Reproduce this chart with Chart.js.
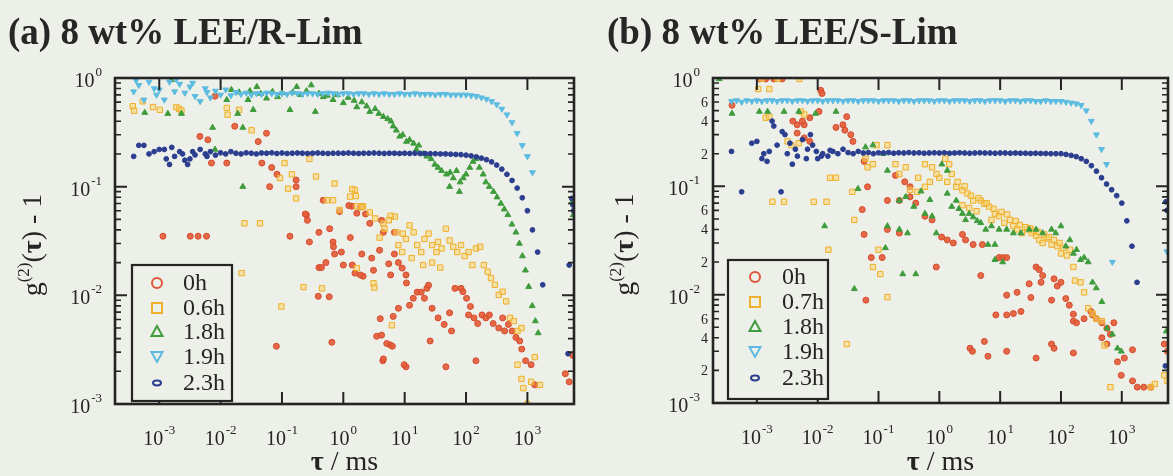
<!DOCTYPE html>
<html>
<head>
<meta charset="utf-8">
<script src="https://cdn.jsdelivr.net/npm/chart.js@4.4.1/dist/chart.umd.min.js"></script>
<style>
  html, body { margin: 0; padding: 0; background: #edf0e8; }
  #wrap { position: relative; width: 1173px; height: 476px; overflow: hidden; }
  canvas { position: absolute; top: 0; }
  #cA { left: 0; }
  #cB { left: 590px; }
  .ttl { position: absolute; top: 13px; font: bold 37px "Liberation Serif", serif; line-height: 37px; color: #262626; white-space: nowrap; }
</style>
</head>
<body>
<div id="wrap">
  <canvas id="cA" width="590" height="476"></canvas>
  <canvas id="cB" width="583" height="476"></canvas>
  <div class="ttl" style="left:8px">(a) 8 wt% LEE/R-Lim</div>
  <div class="ttl" style="left:607px">(b) 8 wt% LEE/S-Lim</div>
</div>
<script>
/* ---------- series names ---------- */
const namesA = ["0h", "0.6h", "1.8h", "1.9h", "2.3h"];
const namesB = ["0h", "0.7h", "1.8h", "1.9h", "2.3h"];

/* ---------- axis ticks ---------- */
const xTicks = [1e-3, 1e-2, 1e-1, 1, 10, 100, 1000];
const xExp = ["-3", "-2", "-1", "0", "1", "2", "3"];
const yTicks = [1, 0.1, 0.01, 0.001];
const yExp = ["0", "-1", "-2", "-3"];
const yMinor = [2e-3, 3e-3, 4e-3, 5e-3, 6e-3, 7e-3, 8e-3, 9e-3,
  2e-2, 3e-2, 4e-2, 5e-2, 6e-2, 7e-2, 8e-2, 9e-2,
  0.2, 0.3, 0.4, 0.5, 0.6, 0.7, 0.8, 0.9];
const yMinorLabelVals = [0.6, 0.4, 0.2, 0.06, 0.04, 0.02, 0.006, 0.004, 0.002];
const yMinorLabelText = ["6", "4", "2", "6", "4", "2", "6", "4", "2"];

/* ---------- lag times of the correlator (dense curves) ---------- */
const tauGrid = [2.15e-4, 2.61e-4, 3.16e-4, 3.83e-4, 4.64e-4, 5.62e-4, 6.81e-4, 8.25e-4,
  1.00e-3, 1.21e-3, 1.47e-3, 1.78e-3, 2.15e-3, 2.61e-3, 3.16e-3, 3.83e-3, 4.64e-3, 5.62e-3, 6.81e-3, 8.25e-3,
  1.00e-2, 1.21e-2, 1.47e-2, 1.78e-2, 2.15e-2, 2.61e-2, 3.16e-2, 3.83e-2, 4.64e-2, 5.62e-2, 6.81e-2, 8.25e-2,
  0.100, 0.121, 0.147, 0.178, 0.215, 0.261, 0.316, 0.383, 0.464, 0.562, 0.681, 0.825,
  1.00, 1.21, 1.47, 1.78, 2.15, 2.61, 3.16, 3.83, 4.64, 5.62, 6.81, 8.25,
  10.0, 12.1, 14.7, 17.8, 21.5, 26.1, 31.6, 38.3, 46.4, 56.2, 68.1, 82.5,
  100, 121, 147, 178, 215, 261, 316, 383, 464, 562, 681, 825,
  1000, 1210, 1470, 1780];

/* ---------- panel (a) ---------- */
const a0h = [[1.15e-3,0.035],[3.2e-3,0.035],[4.3e-3,0.035],[5.9e-3,0.035],
  [4.6e-3,0.29],[6.2e-3,0.27],[7.1e-3,0.165],[1.26e-2,0.165],[8.1e-3,0.68],[1.7e-2,0.36],
  [0.041,0.26],[0.056,0.31],[0.047,0.165],[0.068,0.15],[0.063,0.10],[0.17,0.115],[0.135,0.035],[0.25,0.055],
  [0.28,0.031],[0.47,0.075],[0.68,0.031],[1.38,0.066],[1.66,0.057],[2.7,0.046],
  [0.083,0.13],[0.17,0.10],[0.24,0.056],[0.26,0.049],[0.40,0.038],[0.60,0.041],[0.69,0.028],[0.87,0.059],
  [1.23,0.067],[0.52,0.020],[0.40,0.018],
  [0.081,0.0034],[0.39,0.0098],[0.59,0.0097],[0.65,0.0037],[0.44,0.018],[0.72,0.024],[1.0,0.019],[1.55,0.016],
  [2.1,0.015],[2.0,0.024],[3.1,0.017],[4.0,0.0061],[6.5,0.0064],[5.8,0.0035],[6.3,0.0034],[4.4,0.0025],
  [10.5,0.0022],[3.5,0.0042],[7.9,0.0076],[10.7,0.013],
  [1.9,0.065],[2.3,0.056],[1.3,0.034],[0.93,0.025],[1.4,0.019],[1.9,0.0154],[3.9,0.026],[2.9,0.022],
  [4.2,0.049],[4.5,0.038],[6.8,0.038],[6.8,0.024],[5.5,0.0195],[7.9,0.020],[9.1,0.0178],[10.5,0.0154],
  [5.9,0.0154],[4.2,0.0043],[5.1,0.0036],[4.5,0.0026],[9.8,0.0023],
  [12,0.0081],[13.8,0.0094],[16,0.0107],[18.6,0.0107],[21,0.0094],[23,0.0116],[24.5,0.0124],[26,0.0038],
  [28,0.0076],[35,0.0062],[44,0.0054],[47,0.0022],[54,0.0069],[58,0.0047],[66,0.0116],[83,0.0116],
  [89,0.0108],[102,0.0094],[110,0.0066],[118,0.0079],[135,0.0062],[155,0.0055],[145,0.0025],[182,0.0066],
  [210,0.0062],[240,0.0066],[277,0.0055],[342,0.0050],[395,0.0062],[425,0.0047],[490,0.0054],[565,0.0047],
  [650,0.0041],[750,0.0038],[810,0.0032],[935,0.0025],[1150,0.0023],[1320,0.0015],[4150,0.0019],
  [4800,0.0016],[5500,0.0028]];

const a06h = [[3.7e-4,0.55],[3.9e-4,0.50],[5.4e-4,0.61],[7.9e-4,0.54],[1.02e-3,0.51],[1.9e-3,0.54],[2.1e-3,0.52],
  [2.3e-3,0.50],[1.26e-2,0.53],[1.3e-2,0.46],[2.0e-2,0.51],[3.2e-2,0.33],
  [0.11,0.165],[0.145,0.13],[0.093,0.12],[0.17,0.078],[0.126,0.096],[0.28,0.18],[0.36,0.124],[0.72,0.107],
  [0.0245,0.046],[0.0437,0.046],[0.54,0.075],[0.68,0.075],[1.29,0.081],[1.55,0.093],[1.66,0.066],[2.1,0.066],
  [0.87,0.061],[6.9,0.053],[4.5,0.046],[9.3,0.037],
  [0.022,0.016],[0.098,0.0079],[0.224,0.0119],[0.45,0.0116],[1.66,0.0178],[3.1,0.0129],[3.2,0.0118],[6.2,0.0053],
  [1.4,0.095],[1.6,0.082],[2.0,0.065],[2.7,0.058],[3.3,0.051],[5.9,0.054],[7.3,0.038],[10.5,0.033],[12,0.044],
  [14,0.038],[16,0.029],[18.6,0.025],[21,0.033],[24.5,0.037],[28,0.029],[33,0.025],[35,0.031],[40,0.027],
  [47,0.041],[54,0.032],[62,0.028],[72,0.025],[83,0.029],[95,0.023],[110,0.025],[127,0.019],[145,0.027],
  [170,0.028],[195,0.019],[225,0.0165],[255,0.0144],[295,0.0125],[342,0.0101],[395,0.0108],[450,0.0088],
  [520,0.0062],[600,0.0058],[690,0.0047],[800,0.0050],[690,0.0023],[800,0.0017],[860,0.0014],[1000,0.0010],
  [1150,0.0016],[1320,0.0027],[1600,0.0015],
  [3.9,0.034],[4.7,0.041],[5.5,0.049],[7.9,0.029],[9.1,0.025],[13,0.022],[20,0.019],[28,0.020],[38,0.018]];

const a18h = [[5.8e-4,0.48],[1.38e-3,0.47],[2.3e-3,0.47],[1.58e-3,0.96],[7.4e-3,0.35],[1.26e-2,0.63],[1.9e-2,0.47],
  [2.3e-2,0.35],[2.8e-2,0.63],[3.4e-2,0.51],[3.9e-2,0.83],[0.056,0.65],[0.085,0.67],[0.135,0.51],[0.174,0.83],
  [0.30,0.86],[0.35,0.49],[0.47,0.67],[0.68,0.63],[1.0,0.59],[1.66,0.54],[2.7,0.49],[4.5,0.44],[6.5,0.36],
  [8.3,0.29],[10.7,0.26],[8.1e-3,0.22],[0.023,0.10],
  [0.015,0.78],[0.02,0.74],[0.03,0.76],[0.045,0.72],[0.07,0.75],[0.1,0.73],[0.15,0.74],[0.2,0.70],[0.25,0.76],
  [0.4,0.72],[0.55,0.69],[0.8,0.70],[1.2,0.66],[1.5,0.62],[2.0,0.60],[2.4,0.55],[3.3,0.52],[3.8,0.47],
  [5.3,0.42],[6.0,0.40],[7.3,0.33],[9.3,0.30],[12,0.27],[14,0.25],[15.5,0.22],[17,0.24],[20,0.20],[23,0.19],
  [27,0.18],[31,0.16],[35,0.15],[40,0.14],[48,0.13],[55,0.135],[62,0.12],[70,0.14],[80,0.11],[90,0.12],
  [100,0.13],[115,0.15],[130,0.17],[145,0.18],[165,0.15],[190,0.13],[210,0.11],[240,0.10],[280,0.09],
  [320,0.08],[370,0.07],[420,0.062],[480,0.055],[560,0.045],[650,0.038],[740,0.030],[830,0.023],[930,0.017],
  [1050,0.012],[1200,0.0080],[1350,0.0058],[1500,0.0045],[54,0.10],[78,0.09],[5300,0.072],[5600,0.055]];

const a19h = [null, null, null, 0.75, 0.86, 0.63, 0.92, 0.80,
  0.78, 0.63, 0.92, 0.75, 0.88, 0.73, 0.83, 0.68, 0.61, 0.80, 0.66, 0.76,
  0.70, 0.78, 0.69, 0.74, 0.71, 0.73, 0.70, 0.72, 0.71, 0.73, 0.72, 0.71,
  0.72, 0.71, 0.73, 0.72, 0.71, 0.72, 0.72, 0.71, 0.72, 0.73, 0.72, 0.71,
  0.72, 0.72, 0.71, 0.72, 0.72, 0.71, 0.72, 0.71, 0.72, 0.71, 0.71, 0.72,
  0.71, 0.71, 0.72, 0.71, 0.71, 0.71, 0.70, 0.71, 0.71, 0.70, 0.70, 0.70,
  0.70, 0.69, 0.68, 0.66, 0.64, 0.61, 0.57, 0.52, 0.46, 0.39, 0.31, 0.24,
  0.19, 0.135, null, null];
const a19hExtra = [[4.2e-4,0.95],[9e-4,0.70],[1.9e-3,0.97],[3.5e-3,0.90],[6e-3,0.74]];

const a23h = [null, null, null, 0.19, 0.24, 0.24, 0.20, 0.21,
  0.22, 0.22, 0.16, 0.19, 0.21, 0.175, 0.18, 0.196, 0.22, 0.20, 0.21, 0.195,
  0.205, 0.20, 0.21, 0.203, 0.20, 0.205, 0.203, 0.20, 0.204, 0.203, 0.205, 0.202,
  0.204, 0.202, 0.203, 0.204, 0.203, 0.202, 0.203, 0.204, 0.203, 0.202, 0.203, 0.203,
  0.203, 0.204, 0.203, 0.202, 0.203, 0.203, 0.204, 0.203, 0.202, 0.203, 0.203, 0.202,
  0.203, 0.202, 0.203, 0.202, 0.202, 0.201, 0.201, 0.200, 0.200, 0.199, 0.198, 0.197,
  0.195, 0.192, 0.188, 0.183, 0.177, 0.169, 0.158, 0.145, 0.130, 0.114, 0.097, 0.079,
  0.060, 0.040, 0.025, 0.0125];
const a23hExtra = [[1.3e-3,0.18],[2.4e-3,0.20],[1.6e-3,0.23],[3.5e-3,0.21],[6e-3,0.19],[2.9e-3,0.16],
  [5300,0.078],[5500,0.068],[5650,0.060],[4800,0.019],[4600,0.0029]];

/* ---------- panel (b) ---------- */
const b0h = [[3.9e-4,0.56],[1.1e-3,0.98],[1.4e-3,0.98],[1.9e-3,0.98],[2.6e-3,0.98],[0.0112,0.77],[0.0118,0.72],
  [4.6e-3,0.37],[6.0e-3,0.37],[4.6e-3,0.31],[7.4e-3,0.43],[6.0e-3,0.28],[7.4e-3,0.26],[0.0105,0.49],[0.030,0.44],
  [0.026,0.37],[0.028,0.33],[0.035,0.30],[0.038,0.26],[0.02,0.35],[3.9e-3,0.40],[5.6e-3,0.40],
  [0.058,0.17],[0.054,0.061],[0.058,0.036],[0.076,0.022],[0.115,0.022],[0.062,0.0089],[0.066,0.099],
  [0.19,0.126],[0.27,0.11],[0.33,0.099],[0.14,0.074],[0.22,0.074],[0.14,0.040],[0.22,0.037],[0.33,0.08],
  [0.41,0.07],[0.58,0.053],[0.76,0.049],[0.89,0.018],[1.09,0.034],[1.35,0.032],[1.7,0.03],[2.4,0.036],
  [2.7,0.032],[3.6,0.029],[5.1,0.029],[4.8,0.015],
  [9.6,0.022],[11,0.022],[12.8,0.022],[12.8,0.0099],[19,0.0105],[12.8,0.0065],[16.5,0.0067],[22,0.0070],
  [8.5,0.0065],[39,0.018],[44,0.017],[50,0.015],[47,0.013],[30,0.0126],[32,0.0094],[77,0.014],[87,0.012],
  [100,0.013],[70,0.0089],[120,0.0092],[137,0.008],[160,0.0066],[240,0.006],[160,0.0057],[180,0.0055],
  [310,0.007],[330,0.0065],[380,0.006],[470,0.0055],[570,0.0049],[740,0.0055],[650,0.0043],[470,0.0040],
  [570,0.0035],[850,0.0024],[980,0.0018],[1500,0.0016],[1100,0.0026],[1500,0.0031],[1800,0.0014],
  [2300,0.0014],[3000,0.0014],[5000,0.0035],[5600,0.003],[3.2,0.0032],[3.5,0.0030],[6.3,0.0027],
  [12.8,0.0030],[39,0.0026],[70,0.0035],[77,0.0032],[160,0.0029],[5.5,0.0037]];

const b07h = [[1.05e-3,0.79],[1.6e-3,0.79],[1.2e-3,0.98],[2.2e-3,0.98],[5e-3,0.98],[1.4e-3,0.43],[1.6e-3,0.44],
  [5.3e-3,0.49],[6e-3,0.46],[3.2e-3,0.26],[3.7e-3,0.24],[4.9e-3,0.25],[0.016,0.12],[0.020,0.12],[1.8e-3,0.072],
  [2.8e-3,0.072],[8.6e-3,0.072],[0.014,0.072],[0.015,0.026],[0.037,0.089],[0.04,0.049],[0.061,0.18],
  [0.066,0.15],[0.081,0.16],[0.093,0.24],[0.14,0.24],[0.1,0.026],[0.107,0.0155],[0.14,0.0095],[0.030,0.0035],
  [0.19,0.16],[0.22,0.13],[0.28,0.15],[0.33,0.093],[0.43,0.089],[0.58,0.099],[0.58,0.16],[0.76,0.15],
  [1.0,0.12],[1.35,0.11],[1.25,0.18],[1.45,0.16],[1.9,0.099],[2.4,0.092],[2.9,0.086],[3.6,0.074],[2.4,0.067],
  [3.1,0.063],[4.1,0.059],[4.8,0.074],[5.5,0.069],[6.6,0.065],[8.2,0.056],[7.2,0.049],[9.6,0.053],
  [11.7,0.046],[14.5,0.049],[16.5,0.043],[19,0.040],[23,0.037],[28,0.040],[33,0.037],[39,0.035],[44,0.032],
  [50,0.030],[58,0.033],[70,0.029],[77,0.032],[87,0.028],[100,0.024],[125,0.023],[160,0.018],[170,0.0135],
  [210,0.013],[240,0.0105],[280,0.0075],[330,0.0067],[380,0.006],[470,0.0057],[520,0.0034],[650,0.0014],
  [3000,0.0014],[3500,0.0015],[5000,0.0018],[5600,0.0016],[0.081,0.018],
  [1.6,0.13],[2.0,0.11],[2.6,0.10],[3.3,0.082],[4.4,0.078],[6.0,0.07],[7.8,0.062],[10.5,0.058],[13,0.055],
  [18,0.048],[21,0.044],[26,0.042],[31,0.041],[36,0.039],[42,0.038],[53,0.036],[63,0.034],[95,0.030],
  [110,0.027],[140,0.026],[0.45,0.12],[0.9,0.13],[0.7,0.11]];

const b18h = [[2.4e-4,0.98],[3.9e-4,0.47],[1.1e-3,0.49],[1.5e-3,0.49],[2.8e-3,0.49],[4.9e-3,0.49],[9.2e-3,0.47],
  [0.020,0.49],[0.013,0.043],[0.040,0.0113],[0.061,0.23],[0.081,0.24],[0.12,0.20],[0.14,0.14],[0.046,0.095],
  [0.13,0.027],[0.25,0.0155],[0.41,0.0155],[0.22,0.074],[0.28,0.08],[0.38,0.065],[0.14,0.043],[0.22,0.04],
  [0.30,0.037],[0.58,0.056],[0.76,0.053],[1.1,0.16],[1.35,0.14],[1.35,0.086],[1.9,0.074],[2.4,0.056],
  [0.89,0.037],[2.7,0.049],[3.1,0.056],[4.8,0.046],[5.8,0.040],[7.2,0.043],[9.6,0.040],[12.8,0.040],
  [16.5,0.037],[22,0.037],[30,0.040],[39,0.040],[50,0.037],[70,0.040],[82,0.037],[100,0.043],[120,0.028],
  [160,0.024],[210,0.021],[280,0.02],[330,0.013],[380,0.0115],[470,0.0086],[570,0.0049],[700,0.0043],
  [850,0.0032],[980,0.003],[5400,0.0046],[8.2,0.021],[11,0.02],[6.3,0.029],[8.2,0.029],
  [0.5,0.09],[0.7,0.075],[1.6,0.065],[2.1,0.062],[3.6,0.052],[4.2,0.048],[140,0.032],[180,0.026],[240,0.022]];

const b19h = [null, null, null, 0.61, 0.62, 0.60, 0.62, 0.61,
  0.62, 0.61, 0.62, 0.62, 0.61, 0.62, 0.62, 0.61, 0.62, 0.62, 0.61, 0.62,
  0.62, 0.61, 0.62, 0.62, 0.62, 0.61, 0.62, 0.62, 0.61, 0.62, 0.62, 0.62,
  0.61, 0.62, 0.62, 0.62, 0.61, 0.62, 0.62, 0.61, 0.62, 0.62, 0.62, 0.61,
  0.62, 0.62, 0.61, 0.62, 0.62, 0.62, 0.61, 0.62, 0.62, 0.61, 0.62, 0.62,
  0.62, 0.61, 0.62, 0.62, 0.61, 0.62, 0.62, 0.61, 0.61, 0.62, 0.61, 0.61,
  0.61, 0.60, 0.59, 0.58, 0.56, 0.50, 0.40, 0.30, 0.22, 0.16, null, null,
  null, null, null, null];
const b19hExtra = [[700,0.020],[5500,0.025]];

const b23h = [null, null, null, 0.21, null, 0.089, null, 0.25,
  0.26, 0.18, 0.17, 0.40, 0.24, 0.32, 0.20, 0.16, 0.19, 0.27, 0.22, 0.24,
  0.18, 0.20, 0.19, 0.21, 0.20, 0.22, 0.205, 0.20, 0.21, 0.203, 0.205, 0.20,
  0.204, 0.203, 0.205, 0.202, 0.204, 0.203, 0.205, 0.203, 0.204, 0.202, 0.203, 0.204,
  0.203, 0.204, 0.202, 0.203, 0.204, 0.203, 0.202, 0.203, 0.204, 0.203, 0.203, 0.202,
  0.203, 0.203, 0.202, 0.203, 0.202, 0.202, 0.201, 0.202, 0.201, 0.201, 0.200, 0.200,
  0.200, 0.197, 0.193, 0.188, 0.180, 0.170, 0.155, 0.138, 0.120, 0.105, 0.093, 0.082,
  0.070, 0.048, 0.028, 0.013];
const b23hExtra = [[1.9e-3,0.36],[2.5e-3,0.089],[1.3e-3,0.20],[2.9e-3,0.30],[6.5e-3,0.18],[4.3e-3,0.22],
  [7.6e-3,0.30],[3.5e-3,0.25],[1.6e-3,0.21],[9.5e-3,0.21],[1.15e-2,0.19],[1.6e-2,0.215],
  [5300,0.072],[5500,0.060],[5200,0.0022]];

/* ---------- look ---------- */
const BG = "#edf0e8";
const INK = "#242424";
const SERIF = '"Liberation Serif", "DejaVu Serif", serif';
const styles = [
  { pointStyle: "circle", radius: 3, bg: "rgba(228,92,56,0.92)", border: "#d44a2c", color: "#e0573a" },
  { pointStyle: "rect", radius: 3.8, bg: "rgba(248,214,110,0.55)", border: "#efae2a", color: "#efb02c" },
  { pointStyle: "triangle", radius: 3.4, bg: "#3f9c3c", border: "#3f9c3c", color: "#3f9c3c" },
  { pointStyle: "triangle", radius: 3.4, rotation: 180, bg: "#5cbbe0", border: "#5cbbe0", color: "#5cbbe0" },
  { pointStyle: "circle", radius: 2.4, bg: "#2a3d8e", border: "#2a3d8e", color: "#2a3d8e" },
];

const pairs = (arr) => arr.map(p => ({ x: p[0], y: p[1] }));
const onGrid = (vals) => tauGrid.map((t, i) => ({ x: t, y: vals[i] })).filter(p => p.y != null);

function makeSets(names, series) {
  return series.map((data, i) => ({
    label: names[i],
    data: data,
    pointStyle: styles[i].pointStyle,
    rotation: styles[i].rotation || 0,
    pointRadius: styles[i].radius,
    backgroundColor: styles[i].bg,
    borderColor: styles[i].border,
    borderWidth: 1,
    showLine: false,
    order: 4 - i,
  }));
}

/* ---------- drawing helpers ---------- */
function pow10(ctx, x, y, exp, align) {
  ctx.font = "20px " + SERIF;
  const w1 = ctx.measureText("10").width;
  ctx.font = "13px " + SERIF;
  const w2 = ctx.measureText(exp).width;
  const left = align === "right" ? x - w1 - w2 - 1 : x - (w1 + w2 + 1) / 2;
  ctx.textAlign = "left";
  ctx.font = "20px " + SERIF;
  ctx.fillText("10", left, y);
  ctx.font = "13px " + SERIF;
  ctx.fillText(exp, left + w1 + 1, y - 11);
}

function richText(ctx, parts, cx, y) {
  let total = 0;
  parts.forEach(p => { ctx.font = p[1]; total += ctx.measureText(p[0]).width; });
  let x = cx - total / 2;
  ctx.textAlign = "left";
  parts.forEach(p => {
    ctx.font = p[1];
    ctx.fillText(p[0], x, y + (p[2] || 0));
    x += ctx.measureText(p[0]).width;
  });
}

function legendSymbol(ctx, i, x, y) {
  ctx.strokeStyle = styles[i].color;
  ctx.lineWidth = 2;
  ctx.beginPath();
  if (i === 0) ctx.arc(x, y, 5, 0, Math.PI * 2);
  else if (i === 1) ctx.rect(x - 5, y - 5, 10, 10);
  else if (i === 2) { ctx.moveTo(x, y - 6); ctx.lineTo(x - 5.5, y + 4); ctx.lineTo(x + 5.5, y + 4); ctx.closePath(); }
  else if (i === 3) { ctx.moveTo(x, y + 5); ctx.lineTo(x - 5.5, y - 5); ctx.lineTo(x + 5.5, y - 5); ctx.closePath(); }
  else ctx.ellipse(x, y, 4, 2.4, 0, 0, Math.PI * 2);
  ctx.stroke();
}

function panelPlugin(cfg) {
  return {
    id: "panel" + cfg.key,
    afterDatasetsDraw(chart) {
      const ctx = chart.ctx, a = chart.chartArea;
      const sx = chart.scales.x, sy = chart.scales.y;
      ctx.save();
      ctx.strokeStyle = INK;
      ctx.fillStyle = INK;
      ctx.textBaseline = "alphabetic";

      // major ticks, inward on all four sides
      ctx.lineWidth = 2;
      ctx.beginPath();
      xTicks.forEach(v => {
        const p = sx.getPixelForValue(v);
        ctx.moveTo(p, a.bottom); ctx.lineTo(p, a.bottom - 12);
        ctx.moveTo(p, a.top); ctx.lineTo(p, a.top + 12);
      });
      yTicks.forEach(v => {
        const p = sy.getPixelForValue(v);
        ctx.moveTo(a.left, p); ctx.lineTo(a.left + 12, p);
        ctx.moveTo(a.right, p); ctx.lineTo(a.right - 12, p);
      });
      ctx.stroke();
      ctx.lineWidth = 1.6;
      ctx.beginPath();
      yMinor.forEach(v => {
        const p = sy.getPixelForValue(v);
        ctx.moveTo(a.left, p); ctx.lineTo(a.left + 6, p);
        ctx.moveTo(a.right, p); ctx.lineTo(a.right - 6, p);
      });
      ctx.stroke();

      // frame
      ctx.lineWidth = 2.6;
      ctx.strokeRect(a.left, a.top, a.right - a.left, a.bottom - a.top);

      // tick labels
      xTicks.forEach((v, i) => pow10(ctx, sx.getPixelForValue(v), a.bottom + 41, xExp[i], "center"));
      yTicks.forEach((v, i) => pow10(ctx, a.left - 13, sy.getPixelForValue(v) + 9, yExp[i], "right"));
      if (cfg.minorLabels) {
        ctx.font = "14px " + SERIF;
        ctx.textAlign = "right";
        yMinorLabelVals.forEach((v, i) => ctx.fillText(yMinorLabelText[i], a.left - 5, sy.getPixelForValue(v) + 5));
      }

      // axis titles
      const F = "28px " + SERIF, FB = "bold 28px " + SERIF, FS = "17px " + SERIF;
      richText(ctx, [["\u03c4", FB], [" / ms", F]], (a.left + a.right) / 2, 470);
      ctx.save();
      ctx.translate(cfg.yTitleX, (a.top + a.bottom) / 2 + 4);
      ctx.rotate(-Math.PI / 2);
      richText(ctx, [["g", F], ["(2)", FS, -12], ["(", F], ["\u03c4", FB], [") - 1", F]], 0, 0);
      ctx.restore();

      // legend box
      const L = cfg.legend;
      ctx.fillStyle = BG;
      ctx.fillRect(L.x0, L.y0, L.x1 - L.x0, L.y1 - L.y0);
      ctx.strokeStyle = INK;
      ctx.lineWidth = 2.2;
      ctx.strokeRect(L.x0, L.y0, L.x1 - L.x0, L.y1 - L.y0);
      cfg.names.forEach((n, i) => {
        legendSymbol(ctx, i, L.symX, L.rows[i]);
        ctx.fillStyle = INK;
        ctx.font = "24px " + SERIF;
        ctx.textAlign = "left";
        ctx.fillText(n, L.txtX, L.rows[i] + 7);
      });
      ctx.restore();
    }
  };
}

function makeChart(id, names, series, cfg) {
  return new Chart(document.getElementById(id), {
    type: "scatter",
    data: { datasets: makeSets(names, series) },
    options: {
      responsive: false,
      animation: false,
      devicePixelRatio: 1,
      layout: { padding: cfg.padding },
      plugins: { legend: { display: false }, tooltip: { enabled: false } },
      scales: {
        x: { type: "logarithmic", min: 1.9e-4, max: 5.75e3, display: false },
        y: { type: "logarithmic", min: 1e-3, max: 1, display: false },
      },
    },
    plugins: [panelPlugin(Object.assign({ names: names }, cfg))],
  });
}

makeChart("cA", namesA,
  [pairs(a0h), pairs(a06h), pairs(a18h), onGrid(a19h).concat(pairs(a19hExtra)), onGrid(a23h).concat(pairs(a23hExtra))],
  {
    key: "A",
    padding: { left: 115, right: 16, top: 78, bottom: 72 },
    minorLabels: false,
    yTitleX: 41,
    legend: { x0: 132, y0: 265, x1: 232, y1: 401, symX: 157, txtX: 183, rows: [283, 308, 332, 357, 383] },
  });

makeChart("cB", namesB,
  [pairs(b0h), pairs(b07h), pairs(b18h), onGrid(b19h).concat(pairs(b19hExtra)), onGrid(b23h).concat(pairs(b23hExtra))],
  {
    key: "B",
    padding: { left: 123, right: 4, top: 78, bottom: 73 },
    minorLabels: true,
    yTitleX: 43,
    legend: { x0: 138, y0: 260, x1: 238, y1: 399, symX: 165, txtX: 192, rows: [277, 302, 327, 352, 378] },
  });
</script>
</body>
</html>
